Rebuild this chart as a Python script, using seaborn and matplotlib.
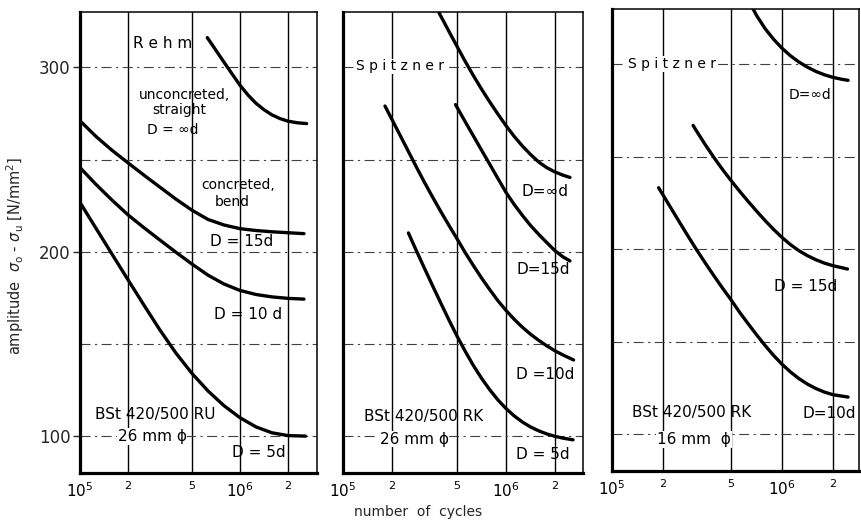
import numpy as np
import pandas as pd
import matplotlib
matplotlib.use("Agg")
import matplotlib.pyplot as plt
import seaborn as sns

# ---------------- data ----------------
# Panel 1: Rehm, BSt 420/500 RU, 26 mm
p1_inf_N = [6.25e5, 7.079e5, 7.943e5, 8.913e5, 1.0e6, 1.122e6, 1.259e6, 1.413e6,
            1.585e6, 1.778e6, 1.995e6, 2.29e6, 2.61e6]
p1_inf_S = [316.1, 309.2, 302.8, 296.5, 290.3, 285.0, 280.5, 277.0,
            274.2, 272.2, 270.8, 269.9, 269.5]
p1_15_N = [1.0e5, 1.259e5, 1.585e5, 1.995e5, 2.512e5, 3.162e5, 3.981e5, 5.012e5,
           6.31e5, 7.943e5, 1.0e6, 1.259e6, 1.585e6, 1.995e6, 2.512e6]
p1_15_S = [271.0, 262.5, 255.0, 248.2, 241.5, 235.0, 228.5, 222.5,
           217.5, 214.5, 212.5, 211.5, 210.8, 210.3, 209.8]
p1_10_N = [1.0e5, 1.259e5, 1.585e5, 1.995e5, 2.512e5, 3.162e5, 3.981e5, 5.012e5,
           6.31e5, 7.943e5, 1.0e6, 1.259e6, 1.585e6, 1.995e6, 2.512e6]
p1_10_S = [245.6, 236.5, 228.0, 220.0, 213.0, 206.3, 199.7, 193.3,
           187.3, 182.5, 179.0, 176.8, 175.5, 174.7, 174.3]
p1_5_N = [1.0e5, 1.259e5, 1.585e5, 1.995e5, 2.512e5, 3.162e5, 3.981e5, 5.012e5,
          6.31e5, 7.943e5, 1.0e6, 1.259e6, 1.585e6, 1.995e6, 2.57e6]
p1_5_S = [226.7, 212.7, 198.7, 184.8, 171.0, 157.5, 145.0, 134.0,
          124.5, 116.5, 110.0, 105.0, 101.8, 100.3, 100.0]

# Panel 2: Spitzner, BSt 420/500 RK, 26 mm
p2_inf_N = [3.84e5, 4.467e5, 5.012e5, 5.623e5, 6.31e5, 7.079e5, 7.943e5, 8.913e5,
            1.0e6, 1.122e6, 1.259e6, 1.413e6, 1.585e6, 1.778e6, 1.995e6,
            2.239e6, 2.47e6]
p2_inf_S = [330.4, 319.5, 311.3, 303.2, 295.5, 288.2, 281.3, 274.7,
            268.4, 262.6, 257.4, 252.8, 248.7, 245.6, 243.3, 241.5, 240.3]
p2_15_N = [4.9e5, 5.623e5, 6.31e5, 7.079e5, 7.943e5, 8.913e5, 1.0e6, 1.122e6,
           1.259e6, 1.413e6, 1.585e6, 1.778e6, 1.995e6, 2.239e6, 2.47e6]
p2_15_S = [279.8, 270.5, 262.8, 255.1, 247.5, 239.8, 232.2, 225.7,
           219.8, 214.3, 209.5, 205.0, 200.6, 197.2, 195.0]
p2_10_N = [1.81e5, 1.995e5, 2.239e5, 2.512e5, 2.818e5, 3.162e5, 3.548e5, 3.981e5,
           4.467e5, 5.012e5, 5.623e5, 6.31e5, 7.079e5, 7.943e5, 8.913e5, 1.0e6,
           1.122e6, 1.259e6, 1.413e6, 1.585e6, 1.778e6, 1.995e6, 2.239e6, 2.6e6]
p2_10_S = [279.0, 271.8, 263.2, 254.6, 246.0, 237.6, 229.6, 221.8,
           214.3, 207.0, 199.5, 192.5, 185.8, 179.5, 173.5, 168.2,
           163.4, 159.1, 155.3, 152.0, 149.0, 146.3, 144.0, 141.3]
p2_5_N = [2.52e5, 2.818e5, 3.162e5, 3.548e5, 3.981e5, 4.467e5, 5.012e5, 5.623e5,
          6.31e5, 7.079e5, 7.943e5, 8.913e5, 1.0e6, 1.122e6, 1.259e6, 1.413e6,
          1.585e6, 1.778e6, 1.995e6, 2.239e6, 2.58e6]
p2_5_S = [210.2, 200.6, 191.0, 181.5, 172.2, 163.0, 154.2, 146.0,
          138.3, 131.4, 125.2, 119.7, 115.0, 111.0, 107.7, 105.0,
          102.9, 101.2, 99.9, 98.9, 98.0]

# Panel 3: Spitzner, BSt 420/500 RK, 16 mm
p3_inf_N = [6.6e5, 7.079e5, 7.943e5, 8.913e5, 1.0e6, 1.122e6, 1.259e6, 1.413e6,
            1.585e6, 1.778e6, 1.995e6, 2.239e6, 2.45e6]
p3_inf_S = [331.9, 326.6, 319.5, 313.7, 308.8, 304.7, 301.3, 298.5,
            296.2, 294.4, 293.0, 292.0, 291.4]
p3_15_N = [3.0e5, 3.162e5, 3.548e5, 3.981e5, 4.467e5, 5.012e5, 5.623e5, 6.31e5,
           7.079e5, 7.943e5, 8.913e5, 1.0e6, 1.122e6, 1.259e6, 1.413e6,
           1.585e6, 1.778e6, 1.995e6, 2.43e6]
p3_15_S = [267.0, 263.6, 256.4, 249.6, 243.2, 237.2, 231.5, 226.0,
           220.7, 215.6, 210.8, 206.4, 202.5, 199.2, 196.5,
           194.3, 192.5, 191.1, 189.3]
p3_10_N = [1.88e5, 1.995e5, 2.239e5, 2.512e5, 2.818e5, 3.162e5, 3.548e5, 3.981e5,
           4.467e5, 5.012e5, 5.623e5, 6.31e5, 7.079e5, 7.943e5, 8.913e5, 1.0e6,
           1.122e6, 1.259e6, 1.413e6, 1.585e6, 1.778e6, 1.995e6, 2.45e6]
p3_10_S = [233.3, 229.4, 221.8, 214.2, 206.7, 199.4, 192.4, 185.6,
           179.0, 172.7, 166.0, 159.8, 153.8, 148.0, 142.6, 137.8,
           133.6, 130.0, 127.0, 124.6, 122.7, 121.3, 120.0]

x_ticks = [1e5, 2e5, 5e5, 1e6, 2e6]
x_ticklabels = ["$10^5$", "2", "5", "$10^6$", "2"]
y_ticks = [100, 200, 300]
y_ticklabels = ["100", "200", "300"]
y_minor = [150, 250]

curves = [
    (0, "inf", p1_inf_N, p1_inf_S), (0, "15", p1_15_N, p1_15_S),
    (0, "10", p1_10_N, p1_10_S), (0, "5", p1_5_N, p1_5_S),
    (1, "inf", p2_inf_N, p2_inf_S), (1, "15", p2_15_N, p2_15_S),
    (1, "10", p2_10_N, p2_10_S), (1, "5", p2_5_N, p2_5_S),
    (2, "inf", p3_inf_N, p3_inf_S), (2, "15", p3_15_N, p3_15_S),
    (2, "10", p3_10_N, p3_10_S),
]
rows = []
for panel, name, Ns, Ss in curves:
    for n, s in zip(Ns, Ss):
        rows.append({"panel": panel, "curve": name, "N": n, "S": s})
df = pd.DataFrame(rows)

# ---------------- figure ----------------
sns.set_theme(style="white")
plt.rcParams["font.family"] = ["DejaVu Sans"]
plt.rcParams["mathtext.fontset"] = "dejavusans"

W, H = 862, 523
fig = plt.figure(figsize=(W / 100, H / 100), dpi=100)
fig.patch.set_facecolor("white")

def frac(l, t, r, b):
    return [l / W, 1 - b / H, (r - l) / W, (b - t) / H]

axes_px = [(80, 12, 317, 473), (343, 12, 583, 473), (612, 9, 859, 471)]
xmax = [3.03e6, 2.97e6, 2.84e6]
axes = []
for i, (l, t, r, b) in enumerate(axes_px):
    ax = fig.add_axes(frac(l, t, r, b))
    ax.set_facecolor("white")
    ax.set_xscale("log")
    ax.set_xlim(1e5, xmax[i])
    ax.set_ylim(80, 330)
    sub = df[df.panel == i]
    sns.lineplot(data=sub, x="N", y="S", units="curve", estimator=None,
                 sort=False, color="black", lw=2.4, ax=ax, legend=False)
    ax.set_xlabel("")
    ax.set_ylabel("")
    ax.set_xticks(x_ticks)
    ax.xaxis.set_minor_locator(matplotlib.ticker.NullLocator())
    ax.set_xticklabels(x_ticklabels)
    for lab, txt in zip(ax.get_xticklabels(), x_ticklabels):
        lab.set_fontsize(11 if "10" in txt else 8)
    ax.tick_params(axis="x", length=0, pad=6, colors="black")
    ax.set_yticks(y_ticks)
    ax.set_yticks(y_minor, minor=True)
    if i == 0:
        ax.set_yticklabels(y_ticklabels, fontsize=12)
        ax.tick_params(axis="y", which="major", length=5, width=1.0,
                       direction="out", pad=2, left=True)
    else:
        ax.set_yticklabels([])
        ax.tick_params(axis="y", which="major", length=0)
    ax.tick_params(axis="y", which="minor", length=0)
    ax.grid(axis="x", which="major", color="black", lw=1.0, ls="-")
    ax.grid(axis="y", which="both", color="0.25", lw=0.8,
            ls=(0, (9, 4, 2, 4)))
    ax.set_axisbelow(True)
    for side in ["left", "bottom"]:
        ax.spines[side].set_linewidth(2.3)
        ax.spines[side].set_color("black")
    for side in ["top", "right"]:
        ax.spines[side].set_linewidth(1.1)
        ax.spines[side].set_color("black")
    axes.append(ax)

ax1, ax2, ax3 = axes
wb = dict(facecolor="white", edgecolor="none", pad=0.6)

def T(ax, x, y, s, size=11, bbox=None, **kw):
    ax.text(x, y, s, fontsize=size, ha="center", va="center",
            color="black", bbox=bbox, zorder=5, **kw)

# panel 1 labels
T(ax1, 3.3e5, 312.7, "R e h m", 11)
T(ax1, 4.5e5, 285.1, "unconcreted,", 10)
T(ax1, 4.2e5, 277.0, "straight", 10)
T(ax1, 3.8e5, 266.1, "D = \u221ed", 10)
T(ax1, 9.8e5, 236.3, "concreted,", 10)
T(ax1, 8.9e5, 227.1, "bend", 10)
T(ax1, 1.03e6, 205.4, "D = 15d", 11)
T(ax1, 1.12e6, 165.9, "D = 10 d", 11)
T(ax1, 1.31e6, 91.0, "D = 5d", 11)
T(ax1, 2.94e5, 111.7, "BSt 420/500 RU", 11)
T(ax1, 2.82e5, 99.9, "26 mm \u03d5", 11, bbox=wb)

# panel 2 labels
T(ax2, 2.24e5, 300.5, "S p i t z n e r", 10, bbox=wb)
T(ax2, 1.74e6, 232.8, "D=\u221ed", 11)
T(ax2, 1.69e6, 190.5, "D=15d", 11)
T(ax2, 1.75e6, 133.6, "D =10d", 11)
T(ax2, 1.69e6, 90.2, "D = 5d", 11)
T(ax2, 3.14e5, 110.8, "BSt 420/500 RK", 11)
T(ax2, 2.73e5, 98.4, "26 mm \u03d5", 11, bbox=wb)

# panel 3 labels
T(ax3, 2.25e5, 300.3, "S p i t z n e r", 10, bbox=wb)
T(ax3, 1.46e6, 283.5, "D=\u221ed", 10)
T(ax3, 1.37e6, 179.6, "D = 15d", 11)
T(ax3, 1.91e6, 110.9, "D=10d", 11)
T(ax3, 2.96e5, 111.4, "BSt 420/500 RK", 11)
T(ax3, 3.04e5, 97.0, "16 mm  \u03d5", 11, bbox=wb)

fig.text(15 / W, 1 - 256 / H,
         "amplitude  $\\sigma_{\\rm o}$ - $\\sigma_{\\rm u}$ [N/mm$^2$]",
         rotation=90, ha="center", va="center", fontsize=10.5)
fig.text(418 / W, 1 - 512 / H, "number  of  cycles",
         ha="center", va="center", fontsize=10)

fig.savefig("out.png", dpi=100, facecolor="white")
